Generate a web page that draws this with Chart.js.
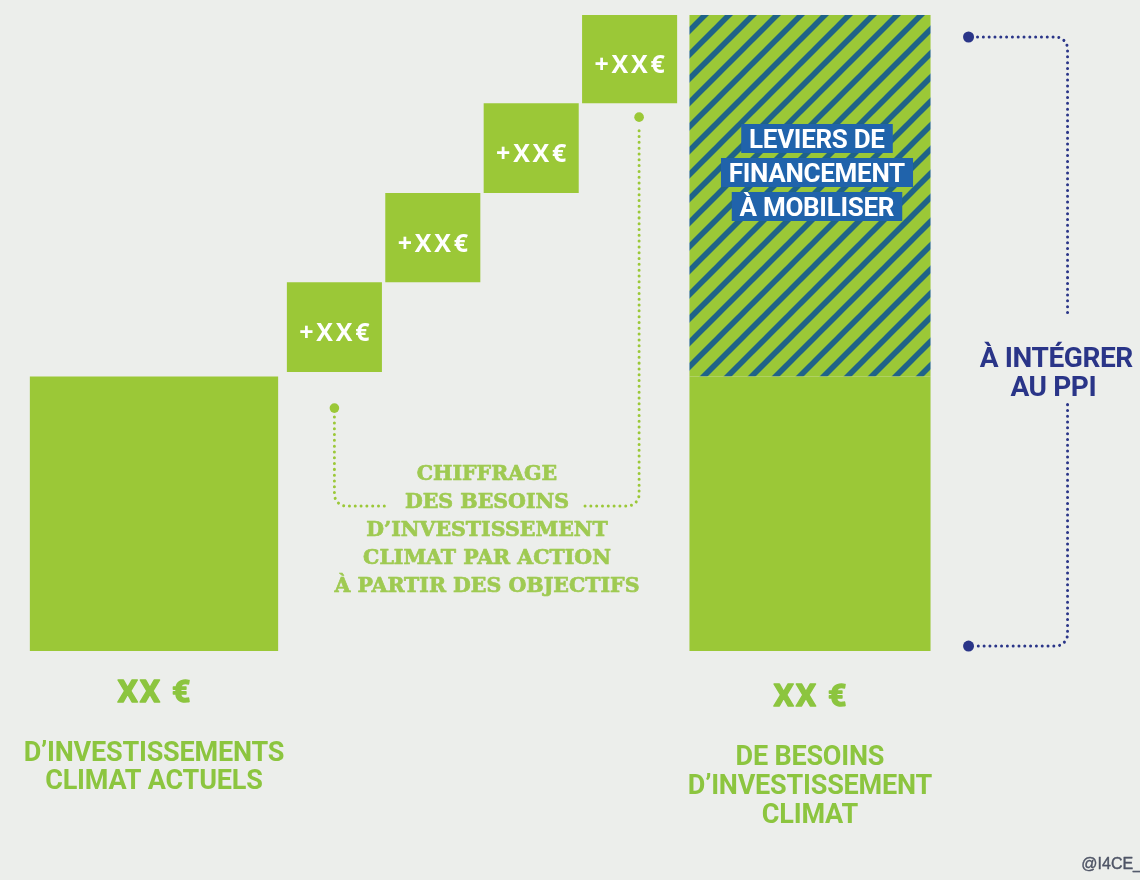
<!DOCTYPE html>
<html><head><meta charset="utf-8">
<script src="https://cdn.jsdelivr.net/npm/chart.js@4.4.1/dist/chart.umd.min.js"></script>
<style>
html,body{margin:0;padding:0;background:#eceeeb;}
#wrap{width:1140px;height:880px;position:relative;}
</style></head><body>
<div id="wrap"><canvas id="c"></canvas></div>
<script>
// ---- data ----
const categories = ["Investissements climat actuels", "Chiffrage par action", "Besoins d'investissement climat"];
const currentInvestment = 30.2;
const actionBounds = [30.7, 40.6, 50.4, 60.3, 70];
const investmentNeeds = 70;
const stepLabels = ["+XX€", "+XX€", "+XX€", "+XX€"];
const totalLabel = "XX €";
const leftLines = ["D’INVESTISSEMENTS", "CLIMAT ACTUELS"];
const rightLines = ["DE BESOINS", "D’INVESTISSEMENT", "CLIMAT"];
const middleLines = ["CHIFFRAGE", "DES BESOINS", "D’INVESTISSEMENT", "CLIMAT PAR ACTION", "À PARTIR DES OBJECTIFS"];
const leverLines = ["LEVIERS DE", "FINANCEMENT", "À MOBILISER"];
const ppiLines = ["À INTÉGRER", "AU PPI"];
const credit = "@I4CE_";

// ---- styles ----
const BG = '#eceeeb';
const GREEN = '#9bc837';
const TEXT_GREEN = '#8cc53f';
const SLAB_GREEN = '#9fca52';
const NAVY = '#2a3588';
const STRIPE = '#1f6388';
const LEVER_BLUE = '#2063ab';

function hatchPattern() {
  const s = 24;
  const c = document.createElement('canvas');
  c.width = c.height = s;
  const g = c.getContext('2d');
  g.fillStyle = GREEN; g.fillRect(0, 0, s, s);
  g.strokeStyle = STRIPE; g.lineWidth = 5.6;
  for (const k of [-1, 0, 1]) {
    g.beginPath(); g.moveTo(k * s - 4, s + 4); g.lineTo(k * s + s + 4, -4); g.stroke();
  }
  return g.createPattern(c, 'repeat');
}

function capText(ctx, text, x, y, font, capRatio, size, color, ls, align, stroke) {
  ctx.save();
  ctx.font = font;
  ctx.fillStyle = color;
  ctx.textAlign = align || 'center';
  ctx.textBaseline = 'alphabetic';
  ctx.letterSpacing = (ls || 0) + 'px';
  const dx = (align === 'right') ? 0 : (ls || 0) / 2;
  const by = y + size * capRatio / 2;
  ctx.fillText(text, x + dx, by);
  if (stroke) {
    ctx.strokeStyle = color; ctx.lineWidth = stroke; ctx.lineJoin = 'round';
    ctx.strokeText(text, x + dx, by);
  }
  ctx.restore();
}

function dotted(ctx, pts, color, r) {
  ctx.save();
  ctx.strokeStyle = color; ctx.lineWidth = 3; ctx.lineCap = 'round';
  ctx.setLineDash([0.01, 5.8]);
  ctx.beginPath();
  ctx.moveTo(pts[0][0], pts[0][1]);
  for (let i = 1; i < pts.length - 1; i++) ctx.arcTo(pts[i][0], pts[i][1], pts[i + 1][0], pts[i + 1][1], r);
  ctx.lineTo(pts[pts.length - 1][0], pts[pts.length - 1][1]);
  ctx.stroke();
  ctx.restore();
}
function dot(ctx, x, y, r, color) {
  ctx.save(); ctx.fillStyle = color; ctx.beginPath(); ctx.arc(x, y, r, 0, Math.PI * 2); ctx.fill(); ctx.restore();
}

const bgPlugin = {
  id: 'bg',
  beforeDraw(chart) {
    const ctx = chart.ctx;
    ctx.save(); ctx.fillStyle = BG; ctx.fillRect(0, 0, chart.width, chart.height); ctx.restore();
  }
};

const labelPlugin = {
  id: 'labels',
  afterDatasetsDraw(chart) {
    const ctx = chart.ctx;
    const leftEl = chart.getDatasetMeta(0).data[0];
    const stepEls = stepLabels.map((_, i) => chart.getDatasetMeta(1 + i).data[1]);
    const solidEl = chart.getDatasetMeta(1 + stepLabels.length).data[2];
    const hatchEl = chart.getDatasetMeta(2 + stepLabels.length).data[2];

    // step labels
    stepEls.forEach((el, i) => {
      capText(ctx, stepLabels[i], el.x, (el.y + el.base) / 2 + 5, 'bold 25px "Open Sans"', 0.714, 25, '#ffffff', 2.8);
    });

    // totals & captions
    const heavy = 'bold 32px Roboto';
    capText(ctx, totalLabel, leftEl.x, leftEl.base + 40, heavy, 0.711, 32, TEXT_GREEN, 2, 'center', 1.4);
    leftLines.forEach((t, i) => capText(ctx, t, leftEl.x, leftEl.base + 100 + i * 28.5, 'bold 27px Roboto', 0.711, 27, TEXT_GREEN, -0.2));
    capText(ctx, totalLabel, solidEl.x, solidEl.base + 44, heavy, 0.711, 32, TEXT_GREEN, 2, 'center', 1.4);
    rightLines.forEach((t, i) => capText(ctx, t, solidEl.x, solidEl.base + 104 + i * 29, 'bold 27px Roboto', 0.711, 27, TEXT_GREEN, -0.2));

    // middle slab caption
    const midX = (stepEls[0].x + stepEls[stepEls.length - 1].x) / 2 + 5;
    const midTop = stepEls[0].base + 100;
    const slabFont = 'bold 20.5px "DejaVu Serif"';
    middleLines.forEach((t, i) => capText(ctx, t, midX, midTop + i * 28, slabFont, 0.73, 20.5, SLAB_GREEN, 0, 'center', 0.7));

    // green connector
    ctx.save(); ctx.font = slabFont; const w2 = ctx.measureText(middleLines[1]).width; ctx.restore();
    const connY = midTop + 28 + 6;
    const lx = stepEls[0].x, rx = stepEls[stepEls.length - 1].x + 9.5;
    const ly0 = stepEls[0].base + 36, ry0 = stepEls[stepEls.length - 1].base + 14;
    dot(ctx, lx, ly0, 4.8, GREEN);
    dot(ctx, rx, ry0, 4.8, GREEN);
    dotted(ctx, [[lx, ly0 + 9], [lx, connY], [midX - w2 / 2 - 15, connY]], GREEN, 12);
    dotted(ctx, [[midX + w2 / 2 + 16, connY], [rx, connY], [rx, ry0 + 9]], GREEN, 12);

    // lever labels on hatched bar
    const lvX = hatchEl.x + 7;
    const lvTop = hatchEl.y + 124;
    const lvFont = 'bold 26px Roboto';
    leverLines.forEach((t, i) => {
      const cy = lvTop + i * 34;
      ctx.save(); ctx.font = lvFont; ctx.letterSpacing = '-0.3px'; const w = ctx.measureText(t).width; ctx.restore();
      ctx.save(); ctx.fillStyle = LEVER_BLUE; ctx.fillRect(lvX - w / 2 - 8, cy - 15, w + 16, 29); ctx.restore();
    });
    leverLines.forEach((t, i) => capText(ctx, t, lvX, lvTop + i * 34, lvFont, 0.711, 26, '#ffffff', -0.3));

    // PPI bracket
    const barRight = hatchEl.x + hatchEl.width / 2;
    const dx = barRight + 38, vx = barRight + 137;
    const topY = hatchEl.y + 22, botY = solidEl.base - 5;
    const t1 = solidEl.y - 20, t2 = solidEl.y + 9;
    dot(ctx, dx, topY, 5.5, NAVY);
    dot(ctx, dx, botY, 5.5, NAVY);
    dotted(ctx, [[dx + 9, topY], [vx, topY], [vx, t1 - 40]], NAVY, 12);
    dotted(ctx, [[vx, t2 + 19], [vx, botY], [dx + 9, botY]], NAVY, 12);
    capText(ctx, ppiLines[0], vx - 11, t1, 'bold 28px Roboto', 0.711, 28, NAVY, -0.4);
    capText(ctx, ppiLines[1], vx - 14, t2, 'bold 28px Roboto', 0.711, 28, NAVY, -0.4);

    // credit
    capText(ctx, credit, chart.width + 2, chart.height - 17, '16px "Liberation Sans"', 0.72, 16, '#4f5566', 0, 'right', 0.4);
  }
};

const stepDatasets = stepLabels.map((l, i) => ({
  label: 'Action ' + (i + 1),
  data: [null, [actionBounds[i], actionBounds[i + 1]], null],
  backgroundColor: GREEN,
  categoryPercentage: 1.2,
  barPercentage: 0.966,
  borderWidth: 0,
  clip: false
}));

new Chart(document.getElementById('c'), {
  type: 'bar',
  data: {
    labels: categories,
    datasets: [
      { label: 'Investissements climat actuels', data: [[0, currentInvestment], null, null], backgroundColor: GREEN,
        grouped: false, categoryPercentage: 1, barPercentage: 0.757, borderWidth: 0, clip: false },
      ...stepDatasets,
      { label: 'Investissements actuels', data: [null, null, [0, currentInvestment]], backgroundColor: GREEN,
        grouped: false, categoryPercentage: 1, barPercentage: 0.735, borderWidth: 0, clip: false },
      { label: 'Leviers de financement à mobiliser', data: [null, null, [currentInvestment, investmentNeeds]], backgroundColor: hatchPattern(),
        grouped: false, categoryPercentage: 1, barPercentage: 0.735, borderWidth: 0, clip: false }
    ]
  },
  options: {
    responsive: true,
    maintainAspectRatio: false,
    animation: false,
    layout: { padding: { left: 154, right: 330, top: 0, bottom: 0 } },
    scales: {
      x: { display: false, offset: false },
      y: { display: false, min: -25.2, max: 71.65 }
    },
    plugins: { legend: { display: false }, tooltip: { enabled: false } }
  },
  plugins: [bgPlugin, labelPlugin]
});
</script>
</body></html>
